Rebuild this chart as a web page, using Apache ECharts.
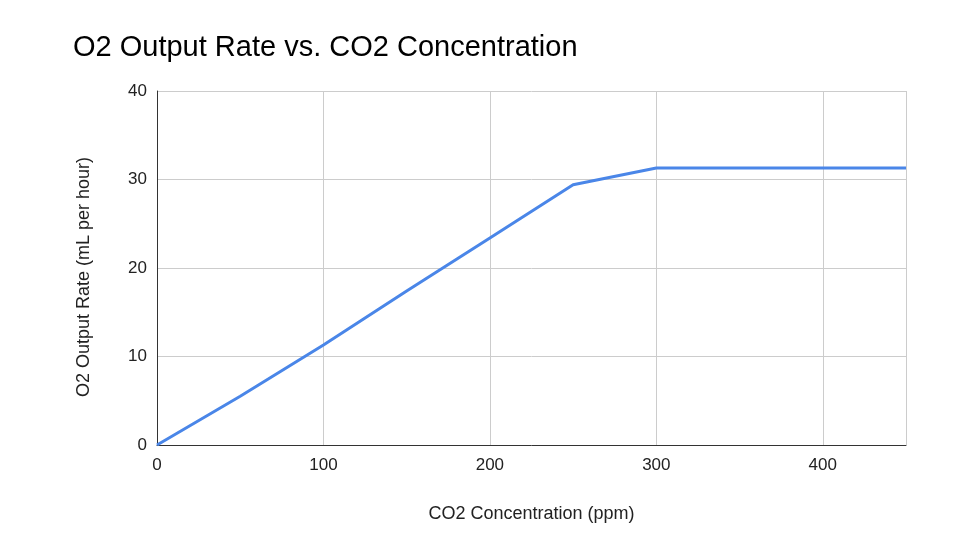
<!DOCTYPE html>
<html>
<head>
<meta charset="utf-8">
<script src="https://cdn.jsdelivr.net/npm/echarts@6/dist/echarts.min.js"></script>
<style>html,body{margin:0;padding:0;background:#fff}#c{width:978px;height:550px}</style>
</head>
<body>
<div id="c"></div>
<script>
const co2 = [0, 50, 100, 150, 200, 250, 300, 350, 400, 450];
const o2Rate = [0, 5.5, 11.3, 17.4, 23.4, 29.4, 31.3, 31.3, 31.3, 31.3];
const titleText = 'O2 Output Rate vs. CO2 Concentration';
const xName = 'CO2 Concentration (ppm)';
const yName = 'O2 Output Rate (mL per hour)';

const chart = echarts.init(document.getElementById('c'));
const font = 'Arial, "Liberation Sans", sans-serif';
chart.setOption({
  animation: false,
  title: {
    text: titleText, left: 68, top: 28,
    textStyle: { fontFamily: font, fontSize: 29, fontWeight: 'normal', color: '#000' }
  },
  grid: { left: 157, right: 72, top: 91, bottom: 105 },
  xAxis: {
    type: 'value', min: 0, max: 450, interval: 100,
    name: xName, nameLocation: 'middle', nameGap: 60,
    nameTextStyle: { fontFamily: font, fontSize: 18, color: '#222' },
    axisLine: { show: true, lineStyle: { color: '#333', width: 1 } },
    axisTick: { show: false },
    axisLabel: { fontFamily: font, fontSize: 17, color: '#222', margin: 12, showMaxLabel: false },
    splitLine: { show: true, lineStyle: { color: '#ccc', width: 1 } }
  },
  yAxis: {
    type: 'value', min: 0, max: 40, interval: 10,
    name: yName, nameLocation: 'middle', nameGap: 64,
    nameTextStyle: { fontFamily: font, fontSize: 18, color: '#222', padding: [0, 18, 0, 0] },
    axisLine: { show: true, lineStyle: { color: '#333', width: 1 } },
    axisTick: { show: false },
    axisLabel: { fontFamily: font, fontSize: 17, color: '#222', margin: 10 },
    splitLine: { show: true, lineStyle: { color: '#ccc', width: 1 } }
  },
  series: [{
    type: 'line',
    data: co2.map((x, i) => [x, o2Rate[i]]),
    showSymbol: false,
    lineStyle: { color: '#4a86e8', width: 3 },
    itemStyle: { color: '#4a86e8' }
  }]
});
</script>
</body>
</html>
